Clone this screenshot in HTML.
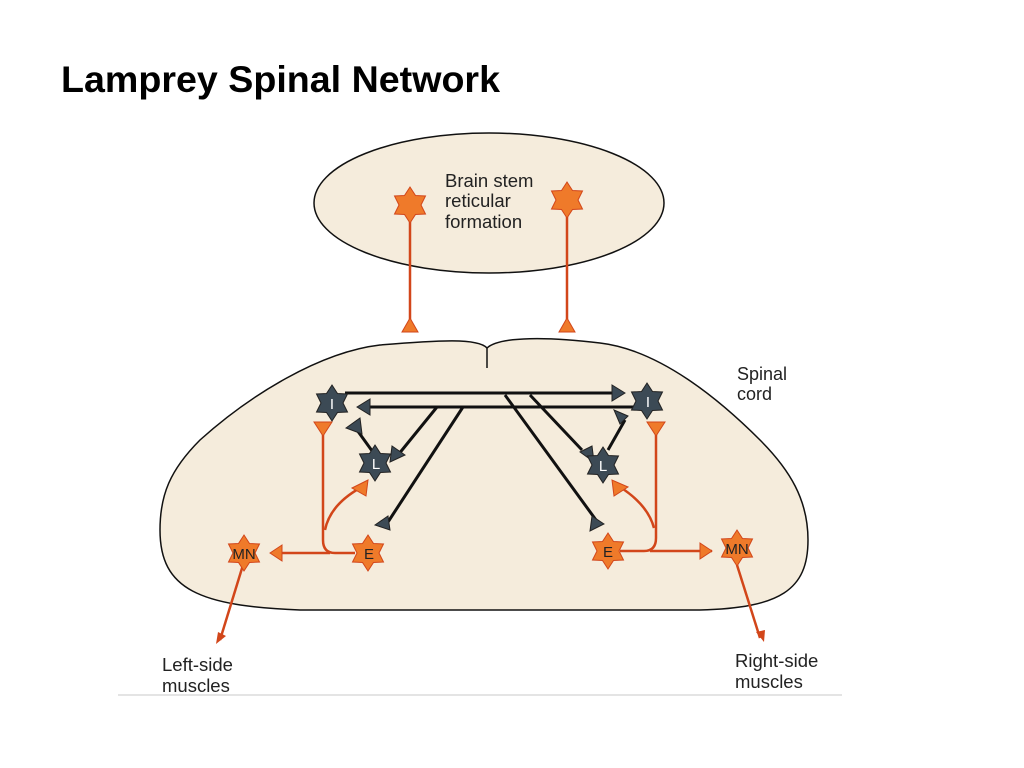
<!DOCTYPE html>
<html><head><meta charset="utf-8"><style>
body{margin:0;width:1024px;height:768px;background:#fff;overflow:hidden}
svg{position:absolute;left:0;top:0}
text{font-family:"Liberation Sans",sans-serif}
</style></head><body>
<svg width="1024" height="768" viewBox="0 0 1024 768">
<defs>
<polygon id="st" points="0,-18 5.5,-9.5 15.5,-9 11,0 15.5,9 5.5,9.5 0,18 -5.5,9.5 -15.5,9 -11,0 -15.5,-9 -5.5,-9.5"/>
</defs>
<text x="61" y="92" font-size="37" font-weight="bold" fill="#000" textLength="439" lengthAdjust="spacingAndGlyphs">Lamprey Spinal Network</text>
<line x1="118" y1="695" x2="842" y2="695" stroke="#e4e4e4" stroke-width="2"/>
<ellipse cx="489" cy="203" rx="175" ry="70" fill="#f5ecdc" stroke="#111" stroke-width="1.5"/>
<path d="M487 348 C478 338 440 340 380 345 C320 352 250 395 200 440 C170 470 160 495 160 530 C160 590 200 606 300 610 L700 610 C780 608 808 590 808 540 C808 500 790 470 760 440 C720 400 660 350 600 343 C550 337 500 336 487 348 Z" fill="#f5ecdc" stroke="#111" stroke-width="1.5"/>
<line x1="487" y1="348" x2="487" y2="368" stroke="#111" stroke-width="1.5"/>
<text font-size="18.5" fill="#222"><tspan x="445" y="187">Brain stem</tspan><tspan x="445" y="207">reticular</tspan><tspan x="445" y="228">formation</tspan></text>
<text font-size="18" fill="#222"><tspan x="737" y="380">Spinal</tspan><tspan x="737" y="400">cord</tspan></text>
<text font-size="18.5" fill="#222"><tspan x="162" y="671">Left-side</tspan><tspan x="162" y="692">muscles</tspan></text>
<text font-size="18.5" fill="#222"><tspan x="735" y="667">Right-side</tspan><tspan x="735" y="688">muscles</tspan></text>
<g stroke="#d2461a" stroke-width="2.5" fill="none">
<line x1="410" y1="210" x2="410" y2="322"/><line x1="567" y1="205" x2="567" y2="322"/>
<path d="M323 430 V540 Q323 553 335 553 H355"/><path d="M325 530 Q330 505 360 488"/>
<line x1="272" y1="553" x2="330" y2="553"/>
<path d="M243 565 L220 640"/>
<path d="M656 430 V538 Q656 551 644 551 H620"/><path d="M654 528 Q648 505 620 487"/>
<line x1="650" y1="551" x2="712" y2="551"/>
<path d="M737 565 L760 638"/>
</g>
<g fill="#d2461a"><polygon points="216,644 218,632 226,636"/><polygon points="764,642 756,632 765,630"/></g>
<g fill="#ef7a2a" stroke="#d2461a" stroke-width="1">
<polygon points="410,318 418,332 402,332"/><polygon points="567,318 575,332 559,332"/>
<polygon points="314,422 332,422 323,436"/><polygon points="647,422 665,422 656,436"/>
<polygon points="352,488 368,480 366,496"/><polygon points="628,487 612,480 614,496"/>
<polygon points="270,553 282,545 282,561"/><polygon points="712,551 700,543 700,559"/>
<use href="#st" x="410" y="205"/><use href="#st" x="567" y="200"/>
<use href="#st" x="244" y="553"/><use href="#st" x="368" y="553"/>
<use href="#st" x="608" y="551"/><use href="#st" x="737" y="548"/>
</g>
<g stroke="#111" stroke-width="3" fill="none">
<line x1="345" y1="393" x2="612" y2="393"/><line x1="362" y1="407" x2="638" y2="407"/>
<line x1="437" y1="407" x2="398" y2="455"/><line x1="463" y1="407" x2="388" y2="522"/>
<line x1="505" y1="395" x2="596" y2="520"/><line x1="530" y1="395" x2="582" y2="450"/>
<line x1="357" y1="430" x2="375" y2="455"/><line x1="625" y1="420" x2="608" y2="450"/>
</g>
<g fill="#3c4a55" stroke="#222" stroke-width="1">
<polygon points="625,393 612,385 612,401"/><polygon points="357,407 370,399 370,415"/>
<polygon points="346,428 360,418 362,434"/><polygon points="628,416 614,410 620,424"/>
<polygon points="405,455 392,446 390,462"/><polygon points="375,525 388,516 390,530"/>
<polygon points="580,452 592,446 594,462"/><polygon points="604,524 592,516 590,531"/>
<use href="#st" x="332" y="403"/><use href="#st" x="375" y="463"/>
<use href="#st" x="647" y="401"/><use href="#st" x="603" y="465"/>
</g>
<g font-size="15" text-anchor="middle">
<text x="332" y="409" fill="#fff">I</text><text x="376" y="469" fill="#fff">L</text>
<text x="648" y="407" fill="#fff">I</text><text x="603" y="471" fill="#fff">L</text>
<text x="369" y="559" fill="#222">E</text><text x="608" y="557" fill="#222">E</text>
<text x="244" y="559" fill="#222">MN</text><text x="737" y="554" fill="#222">MN</text>
</g>
</svg>
</body></html>
